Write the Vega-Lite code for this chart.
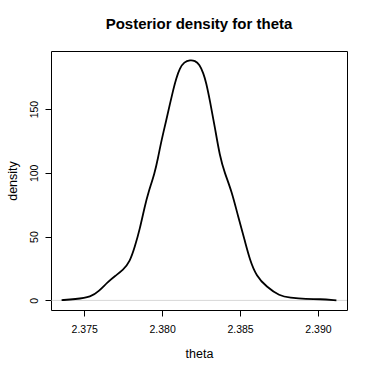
{
  "$schema": "https://vega.github.io/schema/vega-lite/v6.json",
  "autosize": {"type": "none"},
  "width": 296,
  "height": 259,
  "padding": {"left": 51, "top": 51, "right": 27, "bottom": 64},
  "background": "white",
  "title": {
    "text": "Posterior density for theta",
    "font": "Liberation Sans",
    "fontSize": 15,
    "fontWeight": "bold",
    "color": "black",
    "anchor": "middle",
    "baseline": "alphabetic",
    "offset": 7
  },
  "config": {
    "view": {"stroke": "black", "strokeWidth": 1},
    "axis": {
      "domain": false,
      "grid": false,
      "tickColor": "black",
      "tickSize": 6,
      "labelColor": "black",
      "titleColor": "black",
      "labelFont": "Liberation Sans",
      "titleFont": "Liberation Sans",
      "labelFontSize": 10.5,
      "titleFontSize": 12.5,
      "titleFontWeight": "normal"
    }
  },
  "layer": [
    {
      "data": {"values": [{"zero": 0}]},
      "mark": {"type": "rule", "color": "#bebebe", "strokeWidth": 0.6},
      "encoding": {
        "y": {"field": "zero", "type": "quantitative", "scale": {"domain": [-7.52, 195.5], "nice": false, "zero": false}}
      }
    },
    {
      "data": {
        "values": [
          {"theta": 2.37355, "density": 0.2},
          {"theta": 2.37440, "density": 0.9},
          {"theta": 2.37547, "density": 2.9},
          {"theta": 2.37590, "density": 6.8},
          {"theta": 2.37654, "density": 14.7},
          {"theta": 2.37697, "density": 19.1},
          {"theta": 2.37750, "density": 23.8},
          {"theta": 2.37793, "density": 30.3},
          {"theta": 2.37825, "density": 42},
          {"theta": 2.37857, "density": 56},
          {"theta": 2.37889, "density": 74},
          {"theta": 2.37910, "density": 84},
          {"theta": 2.37953, "density": 100},
          {"theta": 2.37974, "density": 112},
          {"theta": 2.37996, "density": 125.5},
          {"theta": 2.38028, "density": 142},
          {"theta": 2.38050, "density": 154},
          {"theta": 2.38071, "density": 165},
          {"theta": 2.38090, "density": 174},
          {"theta": 2.38113, "density": 182},
          {"theta": 2.38141, "density": 187},
          {"theta": 2.38180, "density": 188.5},
          {"theta": 2.38210, "density": 188},
          {"theta": 2.38240, "density": 185},
          {"theta": 2.38265, "density": 178},
          {"theta": 2.38282, "density": 171},
          {"theta": 2.38306, "density": 157},
          {"theta": 2.38338, "density": 136},
          {"theta": 2.38370, "density": 113},
          {"theta": 2.38402, "density": 99.6},
          {"theta": 2.38445, "density": 86},
          {"theta": 2.38487, "density": 66},
          {"theta": 2.38530, "density": 47},
          {"theta": 2.38562, "density": 32},
          {"theta": 2.38605, "density": 19},
          {"theta": 2.38669, "density": 10.7},
          {"theta": 2.38754, "density": 3.4},
          {"theta": 2.38818, "density": 2.1},
          {"theta": 2.38925, "density": 0.9},
          {"theta": 2.39010, "density": 1.1},
          {"theta": 2.39118, "density": 0.1}
        ]
      },
      "mark": {"type": "line", "color": "black", "strokeWidth": 1.8, "interpolate": "basis"},
      "encoding": {
        "x": {
          "field": "theta", "type": "quantitative", "title": "theta",
          "scale": {"domain": [2.37287, 2.39186], "nice": false, "zero": false},
          "axis": {"values": [2.375, 2.38, 2.385, 2.39], "format": ".3f", "labelPadding": 8, "labelBaseline": "top", "titlePadding": 13}
        },
        "y": {
          "field": "density", "type": "quantitative", "title": "density",
          "scale": {"domain": [-7.52, 195.5], "nice": false, "zero": false},
          "axis": {"values": [0, 50, 100, 150], "labelAngle": -90, "labelAlign": "center", "labelBaseline": "bottom", "labelPadding": 6, "titlePadding": 10}
        }
      }
    }
  ]
}
